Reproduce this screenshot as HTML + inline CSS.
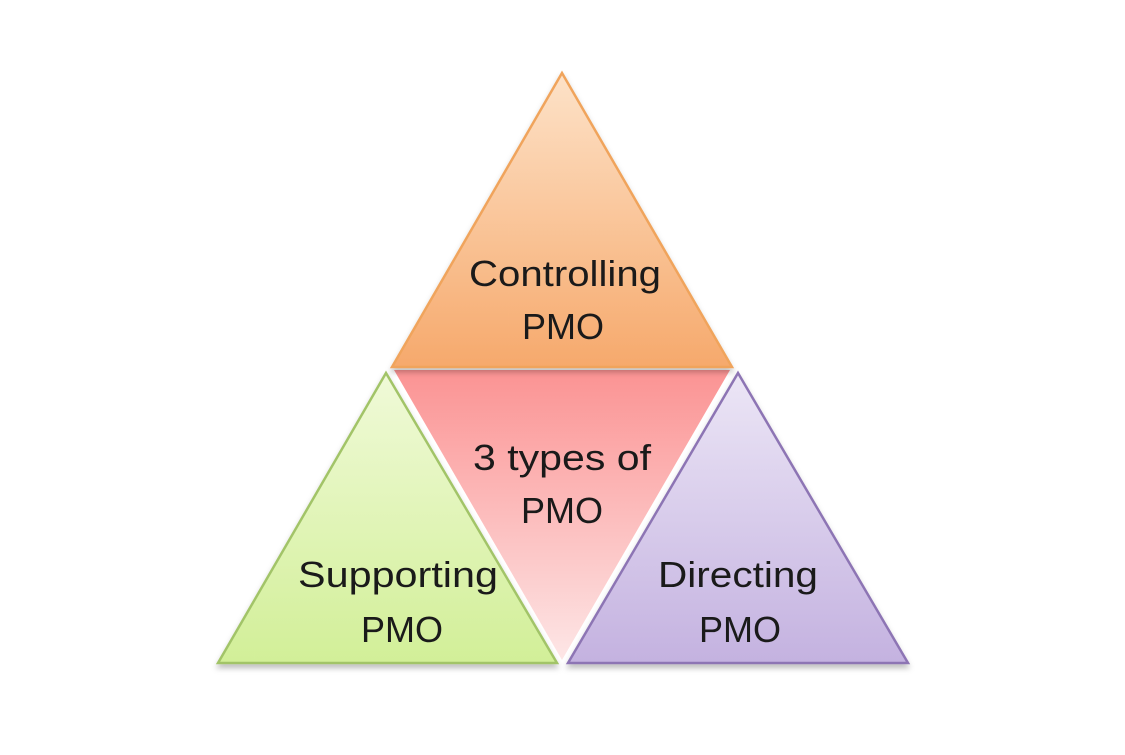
<!DOCTYPE html>
<html><head><style>html,body{margin:0;padding:0;background:#fff}</style></head>
<body>
<svg width="1125" height="750" viewBox="0 0 1125 750" xmlns="http://www.w3.org/2000/svg">
<defs>
<linearGradient id="o" x1="0" y1="0" x2="0" y2="1"><stop offset="0" stop-color="#fde2c8"/><stop offset="1" stop-color="#f6a96c"/></linearGradient>
<linearGradient id="r" x1="0" y1="0" x2="0" y2="1"><stop offset="0" stop-color="#fb9393"/><stop offset="1" stop-color="#fde6e6"/></linearGradient>
<linearGradient id="g" x1="0" y1="0" x2="0" y2="1"><stop offset="0" stop-color="#f0fad8"/><stop offset="1" stop-color="#d2ef98"/></linearGradient>
<linearGradient id="p" x1="0" y1="0" x2="0" y2="1"><stop offset="0" stop-color="#ece6f6"/><stop offset="1" stop-color="#c4b2e0"/></linearGradient>
<filter id="s" x="-10%" y="-10%" width="120%" height="130%"><feDropShadow dx="0" dy="4" stdDeviation="3" flood-color="#000" flood-opacity="0.25"/></filter>
</defs>
<polygon points="394,370 730,370 562,660" fill="url(#r)"/>
<polygon points="562,73 732,367 392,367" fill="url(#o)" stroke="#f0a45c" stroke-width="2.5" filter="url(#s)"/>
<polygon points="386,373 557,663 218,663" fill="url(#g)" stroke="#a2c468" stroke-width="2.5" filter="url(#s)"/>
<polygon points="738,373 908,663 568,663" fill="url(#p)" stroke="#8d74b4" stroke-width="2.5" filter="url(#s)"/>
<g font-family="Liberation Sans, sans-serif" font-size="36" fill="#1a1a1a" text-anchor="middle">
<text x="565" y="286" textLength="192" lengthAdjust="spacingAndGlyphs">Controlling</text>
<text x="563" y="339">PMO</text>
<text x="562" y="470" textLength="178" lengthAdjust="spacingAndGlyphs">3 types of</text>
<text x="562" y="523">PMO</text>
<text x="398" y="587" textLength="200" lengthAdjust="spacingAndGlyphs">Supporting</text>
<text x="402" y="642">PMO</text>
<text x="738" y="587" textLength="160" lengthAdjust="spacingAndGlyphs">Directing</text>
<text x="740" y="642">PMO</text>
</g>
</svg>
</body></html>
